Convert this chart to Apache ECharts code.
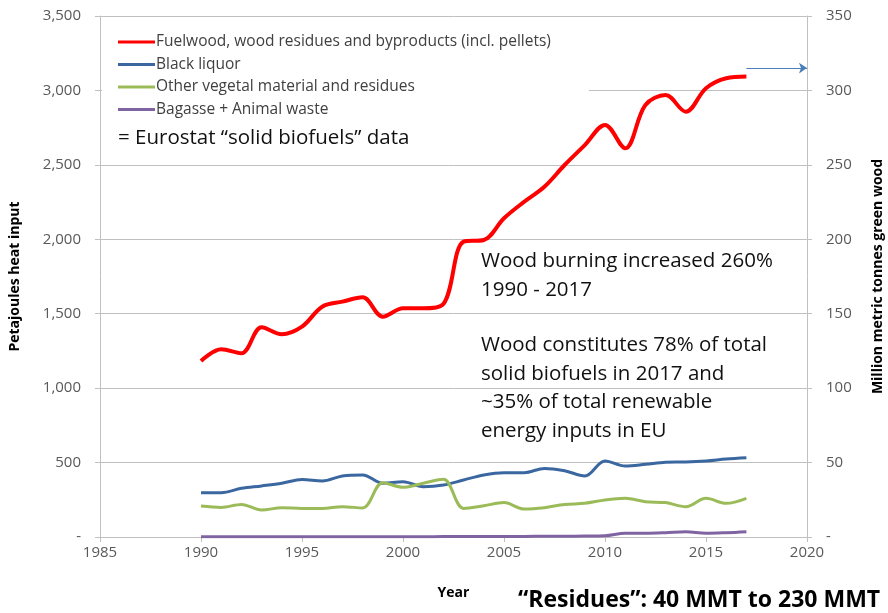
<!DOCTYPE html>
<html>
<head>
<meta charset="UTF-8">
<title>Solid biofuels</title>
<script src="https://cdn.jsdelivr.net/npm/echarts@6/dist/echarts.min.js"></script>
<style>
	html, body { margin: 0; padding: 0; background: #fff; }
	#chart { width: 888px; height: 613px; }
</style>
</head>
<body>
<div id="chart"></div>
<script type="text/javascript">
	// years 1990 - 2017
	var years = [1990,1991,1992,1993,1994,1995,1996,1997,1998,1999,2000,2001,2002,2003,
		2004,2005,2006,2007,2008,2009,2010,2011,2012,2013,2014,2015,2016,2017];
	// petajoules
	var fuelwood = [1182,1261,1234,1409,1362,1413,1547,1581,1610,1480,1536,1536,1565,1984,
		1995,2141,2252,2353,2499,2633,2768,2611,2902,2969,2857,3015,3082,3093];
	var blackLiquor = [298,298,327,343,361,387,376,410,417,361,372,338,349,383,
		417,432,432,461,445,410,511,477,488,502,504,511,524,533];
	var otherVegetal = [208,199,219,181,197,192,192,204,195,365,334,361,388,192,
		210,231,188,197,219,226,249,260,237,231,204,260,226,260];
	var bagasse = [1,1,1,1,1,1,1,1,2,2,2,2,3,3,
		3,4,4,5,5,6,8,25,25,29,36,25,29,36];
	var seriesNames = ['Fuelwood, wood residues and byproducts (incl. pellets)','Black liquor',
		'Other vegetal material and residues','Bagasse + Animal waste'];
	var arrowLevel = 3150;

	function pairs(vals){
		var out=[];
		for(var i=0;i<years.length;i++){ out.push([years[i],vals[i]]); }
		return out;
	}
	function fmt(v){
		if(v==0) return '-';
		return v.toString().replace(/\B(?=(\d{3})+(?!\d))/g, ',');
	}

	var font = '"Open Sans", Lato, sans-serif';
	var gridColor = '#c0c0c0';
	var labelColor = '#595959';

	var chart = echarts.init(document.getElementById('chart'));
	var option = {
		animation: false,
		backgroundColor: '#fff',
		textStyle: { fontFamily: font },
		grid: { left: 100, right: 81, top: 16, bottom: 76, outerBoundsMode: 'none', containLabel: false },
		legend: {
			orient: 'vertical'
			,left: 102
			,top: 30
			,data: seriesNames
			,icon: 'rect'
			,itemWidth: 37
			,itemHeight: 3
			,itemGap: 6.5
			,padding: [4, 38, 6, 16]
			,backgroundColor: '#fff'
			,textStyle: { fontSize: 15.5, color: '#404040', fontFamily: font, padding: [0,0,0,-4] }
			,selectedMode: false
		},
		xAxis: {
			type: 'value'
			,min: 1985
			,max: 2020
			,interval: 5
			,name: 'Year'
			,nameLocation: 'middle'
			,nameGap: 49
			,nameTextStyle: { fontSize: 14, fontWeight: 'bold', color: '#000' }
			,axisLine: { lineStyle: { color: gridColor } }
			,axisTick: { show: true, length: 5, lineStyle: { color: gridColor } }
			,axisLabel: { fontSize: 15, color: labelColor, margin: 8, formatter: function(v){ return String(v); } }
			,splitLine: { show: false }
		},
		yAxis: [{
			type: 'value'
			,min: 0
			,max: 3500
			,interval: 500
			,name: 'Petajoules heat input'
			,nameLocation: 'middle'
			,nameGap: 78
			,nameTextStyle: { fontSize: 14, fontWeight: 'bold', color: '#000' }
			,axisLine: { show: true, lineStyle: { color: gridColor } }
			,axisTick: { show: true, length: 5, inside: false, lineStyle: { color: gridColor } }
			,axisLabel: { fontSize: 15, color: labelColor, margin: 19, formatter: fmt }
			,splitLine: { lineStyle: { color: gridColor, width: 1 } }
		},{
			type: 'value'
			,min: 0
			,max: 350
			,interval: 50
			,position: 'right'
			,name: 'Million metric tonnes green wood'
			,nameLocation: 'middle'
			,nameGap: 64
			,nameRotate: 90
			,nameTextStyle: { fontSize: 14, fontWeight: 'bold', color: '#000' }
			,axisLine: { show: true, lineStyle: { color: gridColor } }
			,axisTick: { show: true, length: 5, lineStyle: { color: gridColor } }
			,axisLabel: { fontSize: 15, color: labelColor, margin: 19, formatter: fmt }
			,splitLine: { show: false }
		}],
		series: [{
			name: seriesNames[0]
			,type: 'line'
			,data: pairs(fuelwood)
			,smooth: 0.35
			,symbol: 'none'
			,clip: false
			,lineStyle: { width: 4, color: '#ff0000' }
			,itemStyle: { color: '#ff0000' }
			,z: 5
			,markLine: {
				silent: true
				,symbol: ['none','arrow']
				,symbolSize: 8
				,label: { show: false }
				,lineStyle: { color: '#4a7ebb', width: 1, type: 'solid' }
				,data: [[{ coord: [2017, arrowLevel] }, { coord: [2020, arrowLevel] }]]
			}
		},{
			name: seriesNames[1]
			,type: 'line'
			,data: pairs(blackLiquor)
			,smooth: 0.35
			,symbol: 'none'
			,lineStyle: { width: 3, color: '#3a67a0' }
			,itemStyle: { color: '#3a67a0' }
		},{
			name: seriesNames[2]
			,type: 'line'
			,data: pairs(otherVegetal)
			,smooth: 0.35
			,symbol: 'none'
			,lineStyle: { width: 3, color: '#9bbb59' }
			,itemStyle: { color: '#9bbb59' }
		},{
			name: seriesNames[3]
			,type: 'line'
			,data: pairs(bagasse)
			,smooth: 0.35
			,symbol: 'none'
			,lineStyle: { width: 3, color: '#8064a2' }
			,itemStyle: { color: '#8064a2' }
		}],
		graphic: [{
			type: 'text', left: 118, top: 128,
			style: { text: '= Eurostat \u201csolid biofuels\u201d data', fontSize: 20.5, fill: '#111', fontFamily: font }
		},{
			type: 'text', left: 481, top: 247,
			style: { text: 'Wood burning increased 260%\n1990 - 2017', fontSize: 20.5, lineHeight: 28.5, fill: '#111', fontFamily: font }
		},{
			type: 'text', left: 481, top: 331,
			style: { text: 'Wood constitutes 78% of total\nsolid biofuels in 2017 and\n~35% of total renewable\nenergy inputs in EU', fontSize: 20.5, lineHeight: 28.5, fill: '#111', fontFamily: font }
		},{
			type: 'text', left: 518, top: 589,
			style: { text: '\u201cResidues\u201d: 40 MMT to 230 MMT', fontSize: 23, fontWeight: 'bold', fill: '#000', fontFamily: font }
		}]
	};
	chart.setOption(option);
</script>
</body>
</html>
